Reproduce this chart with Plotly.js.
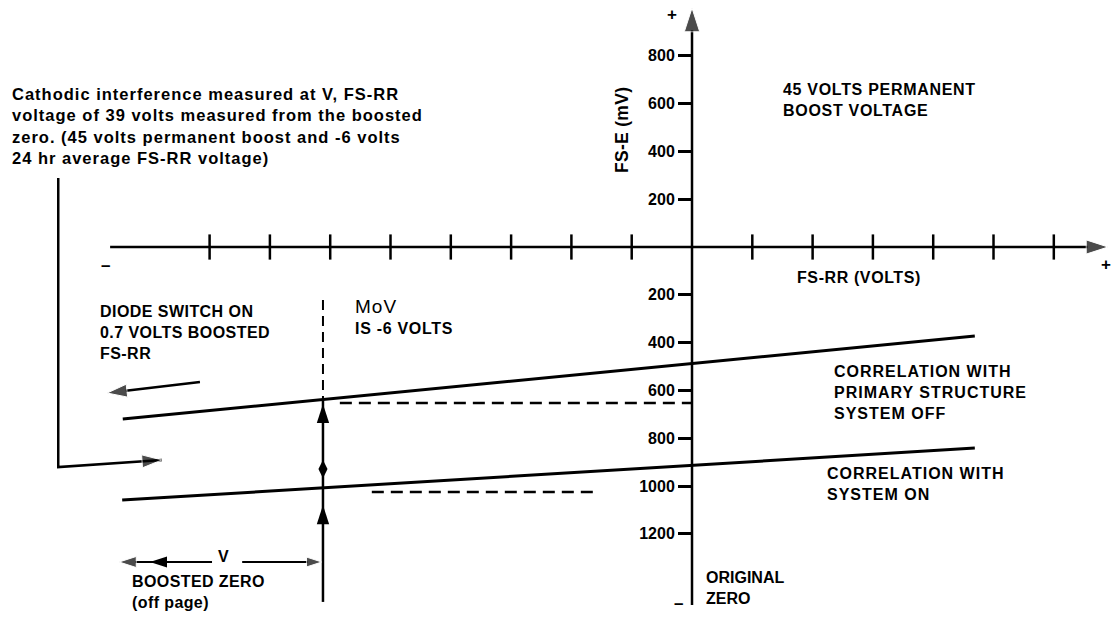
<!DOCTYPE html>
<html>
<head>
<meta charset="utf-8">
<script src="https://cdn.plot.ly/plotly-3.0.1.min.js"></script>
<style>html,body{margin:0;padding:0;background:#fff;}#chart{width:1112px;height:617px;}</style>
</head>
<body>
<div id="chart"></div>
<script>
// ---- Data (FS-RR in volts on x, FS-E in mV on y; below-axis values are negative) ----
const xTickVolts = [-8, -7, -6, -5, -4, -3, -2, -1, 1, 2, 3, 4, 5, 6];
const yTickMV = [800, 600, 400, 200, -200, -400, -600, -800, -1000, -1200];
const yTickLabels = ['800', '600', '400', '200', '200', '400', '600', '800', '1000', '1200'];

const xAxisExtentV = [-9.65, 6.90];
const yAxisExtentMV = [-1498, 1000];

// Correlation lines
const offLineV = [-9.44, 4.69];
const offLineMV = [-720, -372];
const onLineV = [-9.45, 4.69];
const onLineMV = [-1059, -841];

// Dashed projections
const offDashV = [-5.84, 0];
const offDashMV = [-653, -653];
const onDashV = [-5.31, -1.56];
const onDashMV = [-1025, -1025];

// MoV (-6 V) vertical
const movV = [-6.12, -6.12];
const movDashMV = [-222, -640];
const movSolidMV = [-640, -1485];
const movArrowTipMV = [-657, -1080];
const movSpindleMV = [-929];

// Left arrows and callout
const diodeArrowV = [-8.16, -9.70];
const diodeArrowMV = [-565, -611];
const calloutV = [-10.51, -10.51, -8.79];
const calloutMV = [289, -921, -891];

// "V" dimension line
const vDimLeftV = [-7.96, -9.50];
const vDimRightV = [-7.46, -6.14];
const vDimMV = [-1318, -1318];
const vDimSpindleV = [-8.99];

// ---- Drawing ----
const W = 1112, H = 617;
const FONT = 'Liberation Sans, Arial, sans-serif';
const K = '#000';
const zeros = a => a.map(() => 0);

const traces = [];
function line(x, y, width, dash) {
  traces.push({type: 'scatter', mode: 'lines', x: x, y: y, hoverinfo: 'skip',
    line: {color: K, width: width, dash: dash || 'solid'}, showlegend: false, cliponaxis: false});
}
function arrowLine(x, y, width, size) {
  traces.push({type: 'scatter', mode: 'lines+markers', x: x, y: y, hoverinfo: 'skip',
    line: {color: K, width: width},
    marker: {symbol: 'arrow', angleref: 'previous', color: K,
      size: x.map((_, i) => i === x.length - 1 ? size : 0)},
    showlegend: false, cliponaxis: false});
}
function marks(x, y, symbol, size, angle) {
  traces.push({type: 'scatter', mode: 'markers', x: x, y: y, hoverinfo: 'skip',
    marker: {symbol: symbol, size: size, color: K, angle: angle || 0,
      line: {color: K, width: symbol.indexOf('line') === 0 ? 2.5 : 0}},
    showlegend: false, cliponaxis: false});
}

// axes
arrowLine(xAxisExtentV, zeros(xAxisExtentV), 2.5, 23);
arrowLine(zeros(yAxisExtentMV), yAxisExtentMV, 2.5, 25);
marks(xTickVolts, zeros(xTickVolts), 'line-ns', 18);

// correlation lines
line(offLineV, offLineMV, 3);
line(onLineV, onLineMV, 3);
line(offDashV, offDashMV, 2.5, '12px,7px');
line(onDashV, onDashMV, 2.5, '12px,7px');

// MoV vertical
line(movV, movDashMV, 2, '10px,6px');
line(movV, movSolidMV, 2.5);
marks(movArrowTipMV.map(() => movV[0]), movArrowTipMV, 'arrow', 20, 0);
marks(movSpindleMV.map(() => movV[0]), movSpindleMV, 'diamond-tall', 13);

// left arrows
arrowLine(diodeArrowV, diodeArrowMV, 2.5, 21);
arrowLine(calloutV, calloutMV, 2.5, 21);

// V dimension
arrowLine(vDimLeftV, vDimMV, 2, 18);
arrowLine(vDimRightV, vDimMV, 2, 16);
marks(vDimSpindleV, vDimSpindleV.map(() => vDimMV[0]), 'arrow', 18, 270);

function sp(text, ls) {
  if (!ls) return text;
  return text.split('<br>').map(t => '<span style="letter-spacing:' + ls + 'px">' + t + '</span>').join('<br>');
}
function txt(text, px, py, size, ls, opts) {
  opts = opts || {};
  return Object.assign({
    text: sp(text, ls), x: px / W, y: 1 - py / H, xref: 'paper', yref: 'paper',
    xanchor: 'left', yanchor: 'middle', align: 'left', showarrow: false,
    font: {family: FONT, size: size, color: K, weight: 'bold'}
  }, opts);
}

const annotations = [
  txt('Cathodic interference measured at V, FS-RR<br>voltage of 39 volts measured from the boosted<br>zero. (45 volts permanent boost and -6 volts<br>24 hr average FS-RR voltage)', 10, 126, 16.5, 1.0),
  txt('45 VOLTS PERMANENT<br>BOOST VOLTAGE', 781, 100, 16, 0.7),
  txt('FS-E (mV)', 622, 130, 17.5, 0.3, {xanchor: 'center', textangle: -90}),
  txt('FS-RR (VOLTS)', 795, 277.5, 16, 0.6),
  txt('DIODE SWITCH ON<br>0.7 VOLTS BOOSTED<br>FS-RR', 98, 332, 16, 0.45),
  txt('MoV', 353, 306, 19, 1.0, {font: {family: FONT, size: 19, color: K, weight: 'normal'}}),
  txt('IS -6 VOLTS', 353, 328, 16, 0.7),
  txt('CORRELATION WITH<br>PRIMARY STRUCTURE<br>SYSTEM OFF', 832, 392, 16, 1.0),
  txt('CORRELATION WITH<br>SYSTEM ON', 825, 483.5, 16, 1.0),
  txt('ORIGINAL<br>ZERO', 704, 587.5, 16, 0),
  txt('V', 223, 556, 16, 0, {xanchor: 'center'}),
  txt('BOOSTED ZERO<br>(off page)', 130, 592, 16, 0.4),
  txt('+', 672, 14, 17, 0, {xanchor: 'center'}),
  txt('+', 1106, 264, 17, 0, {xanchor: 'center'}),
  txt('\u2013', 105, 265, 17, 0, {xanchor: 'center'}),
  txt('\u2013', 678, 603, 17, 0, {xanchor: 'center'})
];

const layout = {
  width: W, height: H,
  margin: {l: 0, r: 0, t: 0, b: 0, pad: 0},
  paper_bgcolor: '#fff', plot_bgcolor: '#fff',
  showlegend: false,
  xaxis: {range: [-11.476, 6.965], visible: false, fixedrange: true},
  yaxis: {
    range: [-1548.1, 1033.5], anchor: 'free', position: 692 / W,
    showgrid: false, zeroline: false, showline: false,
    ticks: 'outside', ticklen: 14, tickwidth: 3, tickcolor: K,
    tickvals: yTickMV, ticktext: yTickLabels,
    tickfont: {family: FONT, size: 16, color: K, weight: 'bold'},
    fixedrange: true
  },
  annotations: annotations
};

Plotly.newPlot('chart', traces, layout, {staticPlot: true, displayModeBar: false});
</script>
</body>
</html>
